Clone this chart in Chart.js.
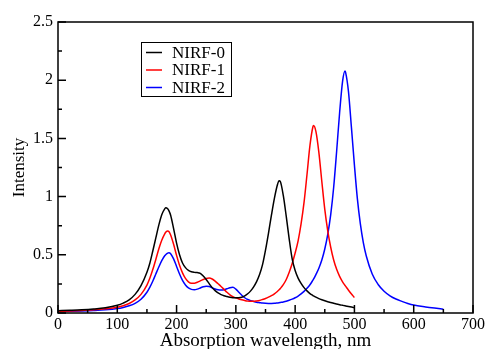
<!DOCTYPE html>
<html>
<head>
<meta charset="utf-8">
<script src="https://cdn.jsdelivr.net/npm/chart.js@4.4.1/dist/chart.umd.min.js"></script>
<style>
  html, body { margin: 0; padding: 0; background: #fff; }
</style>
</head>
<body>
<canvas id="chart" width="487" height="349"></canvas>
<script>
// Wavelength grid (nm) shared by all three spectra
var wavelength = [0, 20, 40, 60, 80, 100, 110, 120, 130, 140, 150,
  155, 160, 165, 170, 175, 180, 182, 185, 187, 190,
  195, 200, 205, 210, 215, 220, 225, 230, 235, 240, 245, 250, 255, 260, 265, 270,
  275, 280, 285, 290, 295, 300, 305, 310, 315, 320, 325, 330, 335, 340, 345, 350,
  355, 360, 365, 370, 373, 375, 380, 385, 390, 395, 400, 405, 410, 415, 420, 425,
  430, 431, 435, 440, 445, 450, 455, 460, 465, 470, 475, 480, 484, 485, 490, 495,
  500, 505, 510, 515, 520, 530, 540, 550, 560, 570, 580, 590, 600, 620, 635, 650];

var nirf0 = [0.02, 0.023, 0.027, 0.034, 0.045, 0.066, 0.085, 0.113, 0.16, 0.235, 0.35,
  0.43, 0.535, 0.645, 0.755, 0.845, 0.895, 0.905, 0.895, 0.88, 0.84,
  0.725, 0.6, 0.5, 0.43, 0.39, 0.366, 0.354, 0.349, 0.347, 0.34, 0.318, 0.288, 0.252, 0.218, 0.192, 0.172,
  0.158, 0.148, 0.141, 0.135, 0.131, 0.13, 0.131, 0.136, 0.147, 0.165, 0.19, 0.225, 0.27, 0.33, 0.415, 0.54,
  0.685, 0.84, 0.985, 1.1, 1.137, 1.13, 1.01, 0.83, 0.635, 0.465, 0.365, 0.3, 0.255, 0.218, 0.19, 0.167,
  0.15, 0.147, 0.136, 0.124, 0.114, 0.105, 0.097, 0.09, 0.083, 0.077, 0.071, 0.066, 0.062, 0.061, 0.056, 0.051,
  0.046];

var nirf1 = [0.015, 0.018, 0.022, 0.027, 0.036, 0.05, 0.063, 0.082, 0.112, 0.16, 0.24,
  0.3, 0.375, 0.46, 0.55, 0.625, 0.68, 0.695, 0.705, 0.7, 0.67,
  0.59, 0.495, 0.41, 0.345, 0.297, 0.268, 0.256, 0.256, 0.264, 0.276, 0.288, 0.297, 0.3, 0.292, 0.274, 0.251,
  0.228, 0.203, 0.178, 0.156, 0.14, 0.13, 0.121, 0.113, 0.107, 0.102, 0.1, 0.1, 0.103, 0.108, 0.116, 0.125,
  0.136, 0.149, 0.165, 0.185, 0.199, 0.21, 0.243, 0.288, 0.35, 0.425, 0.515, 0.62, 0.765, 0.95, 1.19, 1.44,
  1.6, 1.61, 1.56, 1.38, 1.13, 0.89, 0.705, 0.565, 0.455, 0.375, 0.315, 0.268, 0.238, 0.231, 0.196, 0.163,
  0.133];

var nirf2 = [0.012, 0.014, 0.017, 0.021, 0.027, 0.038, 0.048, 0.062, 0.083, 0.118, 0.178,
  0.222, 0.275, 0.335, 0.395, 0.45, 0.492, 0.503, 0.515, 0.518, 0.51,
  0.465, 0.4, 0.335, 0.28, 0.24, 0.215, 0.203, 0.2, 0.205, 0.215, 0.225, 0.23, 0.228, 0.217, 0.206, 0.199,
  0.197, 0.2, 0.208, 0.217, 0.221, 0.205, 0.178, 0.152, 0.131, 0.116, 0.106, 0.099, 0.093, 0.089, 0.085, 0.083,
  0.082, 0.082, 0.083, 0.086, 0.088, 0.09, 0.095, 0.101, 0.109, 0.119, 0.131, 0.146, 0.164, 0.186, 0.212, 0.243,
  0.282, 0.29, 0.33, 0.385, 0.455, 0.55, 0.675, 0.845, 1.08, 1.39, 1.72, 1.99, 2.08, 2.07, 1.9, 1.59,
  1.27, 0.98, 0.765, 0.605, 0.49, 0.335, 0.245, 0.187, 0.148, 0.12, 0.1, 0.082, 0.068, 0.052, 0.042, 0.033];

var seriesNames = ['NIRF-0', 'NIRF-1', 'NIRF-2'];
var seriesColors = ['#000000', '#ff0000', '#0000ff'];

var xTickValues = [0, 100, 200, 300, 400, 500, 600, 700];
var xMinorTicks = [50, 150, 250, 350, 450, 550, 650];
var yTickValues = [0, 0.5, 1, 1.5, 2, 2.5];
var yMinorTicks = [0.25, 0.75, 1.25, 1.75, 2.25];

var serif = "'Liberation Serif', 'Times New Roman', serif";

function toPoints(values) {
  return values.map(function (v, i) { return { x: wavelength[i], y: v }; });
}

// frame with inward ticks, plus the boxed legend inside the plot
var frameAndLegend = {
  id: 'frameAndLegend',
  afterDatasetsDraw: function (chart) {
    var ctx = chart.ctx, a = chart.chartArea;
    var xs = chart.scales.x, ys = chart.scales.y;
    ctx.save();
    ctx.strokeStyle = '#000';
    ctx.lineWidth = 1.5;
    ctx.strokeRect(a.left, a.top, a.right - a.left, a.bottom - a.top);
    ctx.beginPath();
    xTickValues.forEach(function (v) {
      var px = xs.getPixelForValue(v);
      ctx.moveTo(px, a.bottom); ctx.lineTo(px, a.bottom - 8);
    });
    xMinorTicks.forEach(function (v) {
      var px = xs.getPixelForValue(v);
      ctx.moveTo(px, a.bottom); ctx.lineTo(px, a.bottom - 4);
    });
    yTickValues.forEach(function (v) {
      var py = ys.getPixelForValue(v);
      ctx.moveTo(a.left, py); ctx.lineTo(a.left + 8, py);
    });
    yMinorTicks.forEach(function (v) {
      var py = ys.getPixelForValue(v);
      ctx.moveTo(a.left, py); ctx.lineTo(a.left + 4, py);
    });
    ctx.stroke();

    // legend box
    var bx = 141, by = 42, bw = 90, bh = 54;
    ctx.fillStyle = '#fff';
    ctx.fillRect(bx, by, bw, bh);
    ctx.lineWidth = 1;
    ctx.strokeRect(bx + 0.5, by + 0.5, bw, bh);
    ctx.font = '17px ' + serif;
    ctx.textBaseline = 'middle';
    ctx.textAlign = 'left';
    chart.data.datasets.forEach(function (ds, i) {
      var ry = by + 10.5 + i * 17.5;
      ctx.strokeStyle = ds.borderColor;
      ctx.lineWidth = 1.5;
      ctx.beginPath();
      ctx.moveTo(bx + 5, ry); ctx.lineTo(bx + 21, ry);
      ctx.stroke();
      ctx.fillStyle = '#000';
      ctx.fillText(ds.label, bx + 31, ry + 1);
    });
    ctx.restore();
  }
};

new Chart(document.getElementById('chart'), {
  type: 'line',
  data: {
    datasets: [nirf0, nirf1, nirf2].map(function (vals, i) {
      return {
        label: seriesNames[i],
        data: toPoints(vals),
        borderColor: seriesColors[i],
        borderWidth: 1.5,
        pointRadius: 0,
        fill: false,
        cubicInterpolationMode: 'monotone'
      };
    })
  },
  options: {
    responsive: false,
    animation: false,
    layout: { padding: { top: 22, right: 13, left: 0, bottom: 0 } },
    plugins: { legend: { display: false }, tooltip: { enabled: false } },
    scales: {
      x: {
        type: 'linear', min: 0, max: 700,
        grid: { display: false, drawTicks: false },
        border: { display: false },
        afterBuildTicks: function (s) { s.ticks = xTickValues.map(function (v) { return { value: v }; }); },
        afterFit: function (s) { s.height = 36; },
        ticks: { color: '#000', padding: 2, autoSkip: false, maxRotation: 0, font: { family: serif, size: 16 },
          callback: function (v) { return String(v); } },
        title: { display: true, text: 'Absorption wavelength, nm', color: '#000',
          font: { family: serif, size: 19, lineHeight: 0.8 }, padding: 0 }
      },
      y: {
        type: 'linear', min: 0, max: 2.5,
        grid: { display: false, drawTicks: false },
        border: { display: false },
        afterBuildTicks: function (s) { s.ticks = yTickValues.map(function (v) { return { value: v }; }); },
        afterFit: function (s) { s.width = 58; },
        ticks: { color: '#000', padding: 5, font: { family: serif, size: 16 },
          callback: function (v) { return String(v); } },
        title: { display: true, text: 'Intensity', color: '#000',
          font: { family: serif, size: 17, lineHeight: 1.2 }, padding: { top: 9, bottom: 0 } }
      }
    }
  },
  plugins: [frameAndLegend]
});
</script>
</body>
</html>
